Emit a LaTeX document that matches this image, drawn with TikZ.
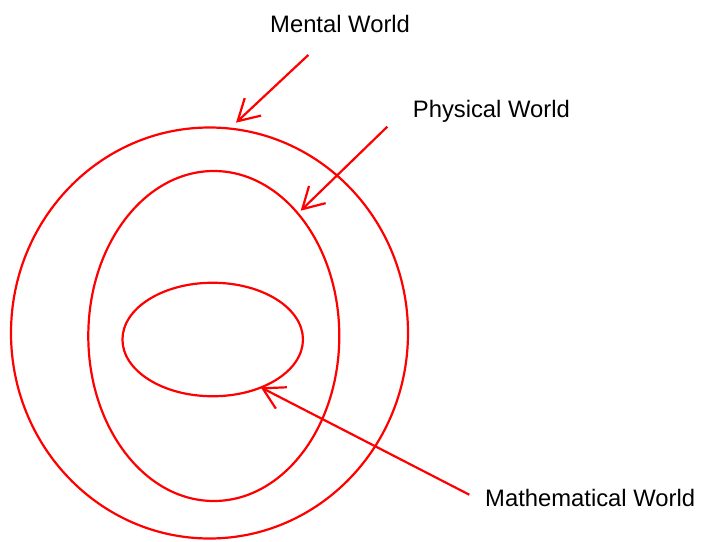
\documentclass[tikz,border=0pt]{standalone}
\usepackage{fontspec}
\setmainfont{Liberation Sans}
\usetikzlibrary{arrows.meta,shapes.geometric}
\begin{document}
\begin{tikzpicture}[x=1pt,y=-1pt,
  world/.style={draw=red, line width=2.2pt, ellipse, inner sep=0pt},
  lbl/.style={anchor=base west, inner sep=0pt, font=\fontsize{23.8}{28}\selectfont},
  pointer/.style={draw=red, line width=2.2pt, -{Straight Barb[length=21pt,width=24pt,line width=2.2pt]}}]
\useasboundingbox (0,0) rectangle (704,541);
\node[world, minimum width=397pt, minimum height=411pt] (outer) at (209.5,333) {};
\node[world, minimum width=251pt, minimum height=330pt] (middle) at (213.8,336) {};
\node[world, minimum width=180.5pt, minimum height=113.5pt] (inner) at (212.7,339.5) {};
\node[lbl] (mental) at (270,32.3) {Mental World};
\node[lbl] (physical) at (412.7,117.7) {Physical World};
\node[lbl] (math) at (485,506.7) {Mathematical World};
\coordinate (mentalfrom) at (308.3,55);
\coordinate (mentaltip) at (236,122.7);
\coordinate (physfrom) at (387.3,126.7);
\coordinate (phystip) at (300.7,210.7);
\coordinate (mathfrom) at (469.3,494.7);
\coordinate (mathtip) at (260.7,387.3);
\draw[pointer] (mentalfrom) -- (mentaltip);
\draw[pointer] (physfrom) -- (phystip);
\draw[pointer] (mathfrom) -- (mathtip);
\end{tikzpicture}
\end{document}
